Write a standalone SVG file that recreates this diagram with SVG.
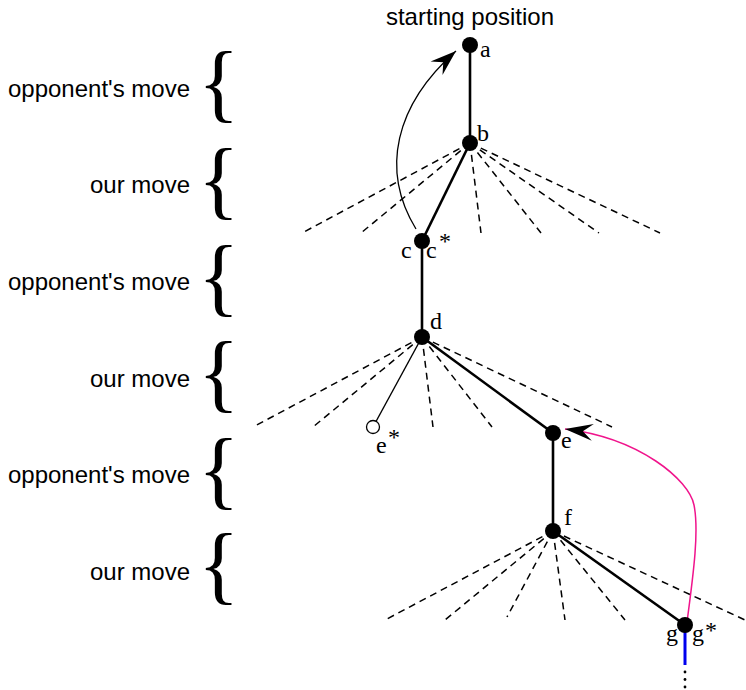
<svg xmlns="http://www.w3.org/2000/svg" width="746" height="690" viewBox="0 0 746 690">
<style>
.lbl{font-family:"Liberation Sans",Arial,sans-serif;font-size:24px;fill:#000}
.brace{font-family:"Liberation Serif","Times New Roman",serif;font-size:86px;fill:#000}
.nl{font-family:"Liberation Serif","Times New Roman",serif;font-size:24px;fill:#000}
.node{fill:#000}
.open{fill:#fff;stroke:#000;stroke-width:1.3}
.edge{stroke:#000;stroke-width:2.6;fill:none}
.thin{stroke:#000;stroke-width:1.4;fill:none}
.dash{stroke:#000;stroke-width:1.5;stroke-dasharray:7 5;fill:none}
</style>
<defs>
<marker id="ah" markerUnits="userSpaceOnUse" viewBox="-28 -10 30 20" refX="0" refY="0" markerWidth="30" markerHeight="20" orient="auto">
<path d="M0,0 L-26,-9 L-17,0 L-26,9 Z" fill="#000"/>
</marker>
<marker id="ahm" markerUnits="userSpaceOnUse" viewBox="-30 -10 32 20" refX="0" refY="0" markerWidth="32" markerHeight="20" orient="auto">
<path d="M0,0 L-28,-8.5 L-18,0 L-28,8.5 Z" fill="#000"/>
</marker>
</defs>

<g id="side-labels">
<text class="lbl" x="190" y="97" text-anchor="end">opponent's move</text>
<text class="lbl" x="190" y="193" text-anchor="end">our move</text>
<text class="lbl" x="190" y="290" text-anchor="end">opponent's move</text>
<text class="lbl" x="190" y="387" text-anchor="end">our move</text>
<text class="lbl" x="190" y="483" text-anchor="end">opponent's move</text>
<text class="lbl" x="190" y="580" text-anchor="end">our move</text>
<text class="brace" x="198" y="111">{</text>
<text class="brace" x="198" y="208">{</text>
<text class="brace" x="198" y="305">{</text>
<text class="brace" x="198" y="401">{</text>
<text class="brace" x="198" y="498">{</text>
<text class="brace" x="198" y="593">{</text>
</g>

<text class="lbl" x="470" y="25" text-anchor="middle">starting position</text>

<g id="connectors">
<line class="edge" x1="470" y1="45" x2="470" y2="143"/>
<line class="edge" x1="470" y1="143" x2="422" y2="241"/>
<line class="edge" x1="422" y1="241" x2="422" y2="337"/>
<line class="edge" x1="422" y1="337" x2="553" y2="433"/>
<line class="thin" x1="422" y1="337" x2="373" y2="427"/>
<line class="edge" x1="553" y1="433" x2="553" y2="531"/>
<line class="edge" x1="553" y1="531" x2="685" y2="625"/>
<line x1="685" y1="625" x2="685" y2="665" stroke="#0000ee" stroke-width="3"/>
<circle cx="685" cy="672" r="1.4" fill="#000"/>
<circle cx="685" cy="679.5" r="1.4" fill="#000"/>
<circle cx="685" cy="687" r="1.4" fill="#000"/>

<line class="dash" x1="470" y1="143" x2="302" y2="233"/>
<line class="dash" x1="470" y1="143" x2="361" y2="233"/>
<line class="dash" x1="470" y1="143" x2="481" y2="233"/>
<line class="dash" x1="470" y1="143" x2="541" y2="233"/>
<line class="dash" x1="470" y1="143" x2="599" y2="233"/>
<line class="dash" x1="470" y1="143" x2="660" y2="233"/>

<line class="dash" x1="422" y1="337" x2="253" y2="427"/>
<line class="dash" x1="422" y1="337" x2="313" y2="427"/>
<line class="dash" x1="422" y1="337" x2="433" y2="427"/>
<line class="dash" x1="422" y1="337" x2="492" y2="427"/>
<line class="dash" x1="422" y1="337" x2="612" y2="427"/>

<line class="dash" x1="553" y1="531" x2="385" y2="620"/>
<line class="dash" x1="553" y1="531" x2="445" y2="620"/>
<line class="dash" x1="553" y1="531" x2="507" y2="617"/>
<line class="dash" x1="553" y1="531" x2="565" y2="620"/>
<line class="dash" x1="553" y1="531" x2="625" y2="620"/>
<line class="dash" x1="553" y1="531" x2="745" y2="620"/>

<path d="M416,229 C380,170 395,105 456,51" fill="none" stroke="#000" stroke-width="1.3" marker-end="url(#ah)"/>
<path d="M687,622 C694,570 699,530 694,505 C689,480 640,438 565,429" fill="none" stroke="#f0148c" stroke-width="1.5" marker-end="url(#ahm)"/>
</g>

<g id="node-a"><circle class="node" cx="470" cy="45" r="8"/><text class="nl" x="480" y="57">a</text></g>
<g id="node-b"><circle class="node" cx="470" cy="143" r="8"/><text class="nl" x="477" y="141">b</text></g>
<g id="node-c"><circle class="node" cx="422" cy="241" r="8"/><text class="nl" x="401" y="258">c</text><text class="nl" x="426" y="258">c</text><text class="nl" x="439" y="249">*</text></g>
<g id="node-d"><circle class="node" cx="422" cy="337" r="8"/><text class="nl" x="430" y="329">d</text></g>
<g id="node-estar"><circle class="open" cx="373" cy="427" r="6.5"/><text class="nl" x="376" y="453">e</text><text class="nl" x="388" y="445">*</text></g>
<g id="node-e"><circle class="node" cx="553" cy="433" r="8"/><text class="nl" x="561" y="448">e</text></g>
<g id="node-f"><circle class="node" cx="553" cy="531" r="8"/><text class="nl" x="564" y="525">f</text></g>
<g id="node-g"><circle class="node" cx="685" cy="625" r="8"/><text class="nl" x="666" y="641">g</text><text class="nl" x="692" y="641">g</text><text class="nl" x="705" y="638">*</text></g>
</svg>
